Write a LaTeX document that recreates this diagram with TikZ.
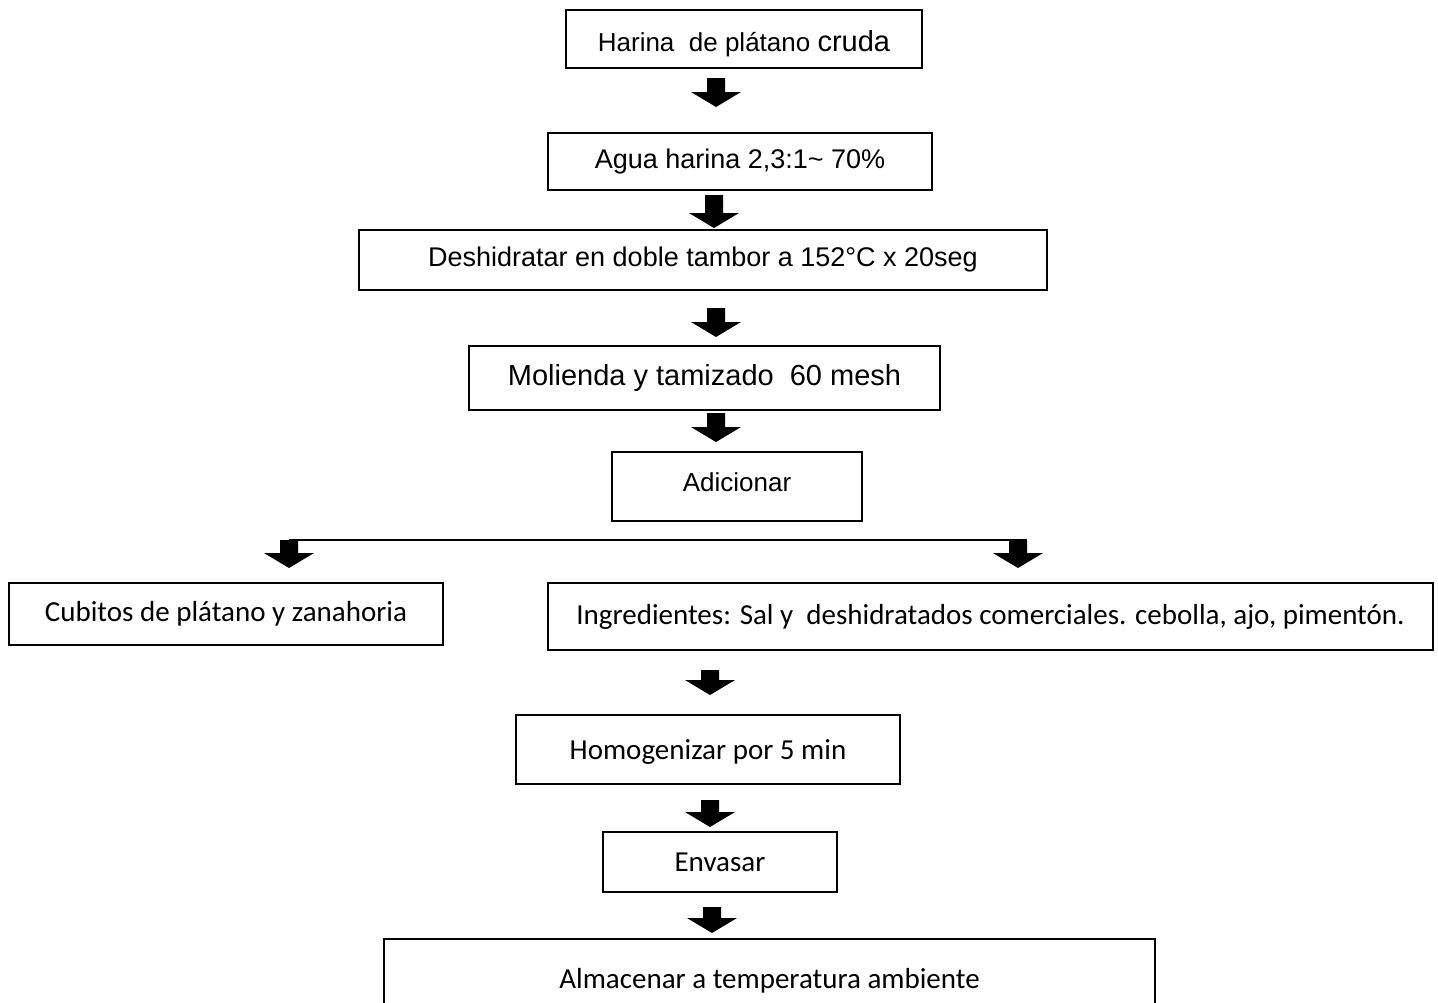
\documentclass[tikz,border=0pt]{standalone}
\usepackage{fontspec}
\setmainfont{Liberation Sans}
\newfontfamily\calib{Carlito}
\newcommand{\blkarrow}[3]{\fill[black] (#1-9,#2) -- (#1+9,#2) -- (#1+9,#3-15) -- (#1+25,#3-15) -- (#1,#3) -- (#1-25,#3-15) -- (#1-9,#3-15) -- cycle;}
\begin{document}
\begin{tikzpicture}[x=1pt,y=-1pt,
  box/.style={draw=black, line width=1.6pt, inner sep=0pt, rectangle, align=center},
  arial/.style={font=\fontsize{26}{31}\selectfont},
  calfont/.style={font=\calib\fontsize{29}{34}\selectfont},
]
\useasboundingbox (0,0) rectangle (1438,1002);
\clip (0,0) rectangle (1438,1002);
\fill[white] (0,0) rectangle (1438,1002);

% process boxes
\node[box, arial, minimum width=356pt, minimum height=58pt, text height=30pt] (harina) at (744,39)
  {Harina\ \ de plátano {\fontsize{29}{31}\selectfont cruda}};
\node[box, font=\fontsize{27}{31}\selectfont, minimum width=384pt, minimum height=57pt] (agua) at (740,161.5)
  {Agua harina 2,3:1\textasciitilde\ 70\%};
\node[box, font=\fontsize{27}{31}\selectfont, minimum width=688pt, minimum height=60pt] (deshid) at (703,260)
  {Deshidratar en doble tambor a 152°C x 20seg};
\node[box, font=\fontsize{29}{33}\selectfont, minimum width=471pt, minimum height=64pt] (molienda) at (704.5,378)
  {Molienda y tamizado\ \ 60 mesh};
\node[box, arial, minimum width=250pt, minimum height=69pt, text depth=8pt] (adicionar) at (737,486.5)
  {Adicionar};
\node[box, calfont, minimum width=434pt, minimum height=62pt] (cubitos) at (226,614)
  {Cubitos de plátano y zanahoria};
\node[box, calfont, minimum width=885pt, minimum height=67pt] (ingred) at (990.5,616.5)
  {Ingredientes: Sal y\ \ deshidratados comerciales. cebolla, ajo, pimentón.};
\node[box, calfont, minimum width=384pt, minimum height=69pt, text height=24pt] (homog) at (708,749.5)
  {Homogenizar por 5 min};
\node[box, calfont, minimum width=234pt, minimum height=60pt] (envasar) at (720,862)
  {Envasar};
\node[box, calfont, minimum width=771pt, minimum height=71pt, text height=32pt] (almacenar) at (769.5,974.5)
  {Almacenar a temperatura ambiente};

% block arrows between steps
\blkarrow{716}{78}{107}
\blkarrow{714}{195}{228}
\blkarrow{716}{308}{337}
\blkarrow{716}{413}{442}
% split
\coordinate (splitL) at (289,540);
\coordinate (splitR) at (1027,540);
\draw[line width=2.5pt] (splitL) -- (splitR);
\blkarrow{289}{540}{568}
\blkarrow{1018}{540}{568}
\blkarrow{710}{670}{695}
\blkarrow{710}{800}{827}
\blkarrow{712}{907}{933}
\end{tikzpicture}
\end{document}
